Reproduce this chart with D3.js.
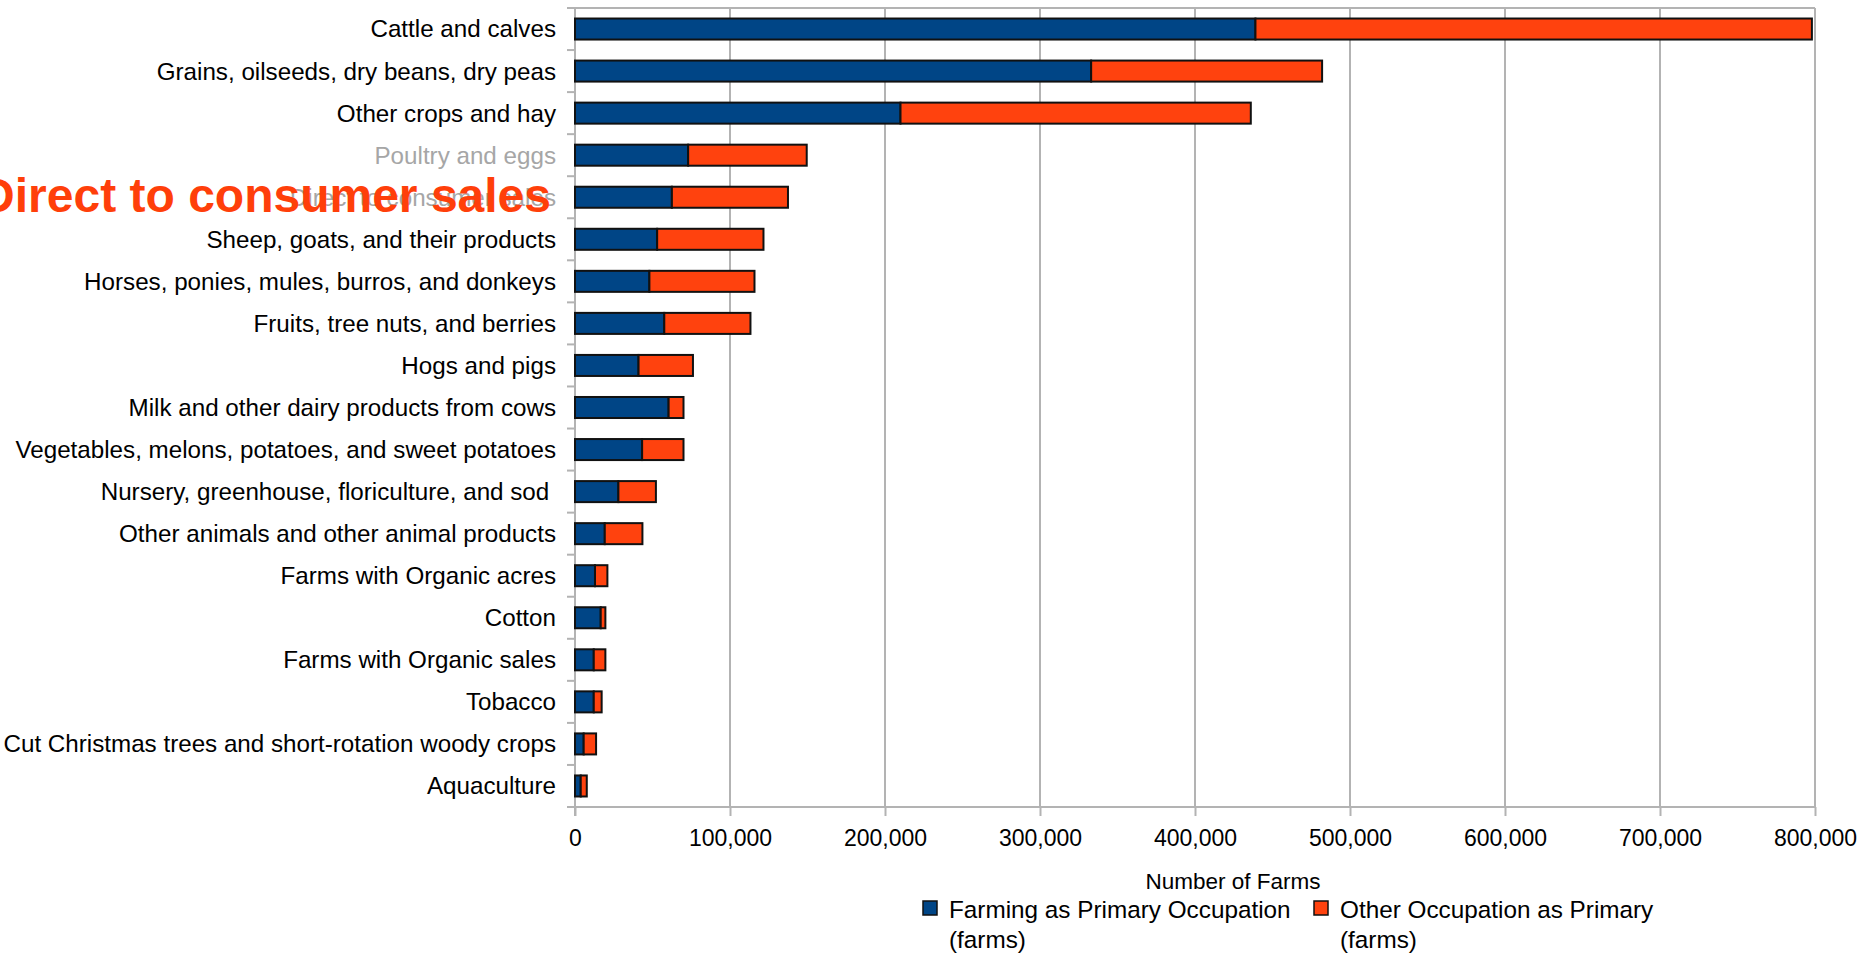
<!DOCTYPE html>
<html>
<head>
  <meta charset="UTF-8">
  <title>Number of Farms by commodity</title>
  <style>
    body {
      margin: 0;
      background-color: white;
    }
    svg {
      display: block;
      font-family: "Liberation Sans", Arial, sans-serif;
    }
    .catlabel {
      white-space: pre;
    }
  </style>
</head>
<body>

<svg id="chart"></svg>

<script src="https://d3js.org/d3.v7.min.js"></script>
<script>

// categories, top to bottom
let categories = [
  "Cattle and calves",
  "Grains, oilseeds, dry beans, dry peas",
  "Other crops and hay",
  "Poultry and eggs",
  "Direct to consumer sales",
  "Sheep, goats, and their products",
  "Horses, ponies, mules, burros, and donkeys",
  "Fruits, tree nuts, and berries",
  "Hogs and pigs",
  "Milk and other dairy products from cows",
  "Vegetables, melons, potatoes, and sweet potatoes",
  "Nursery, greenhouse, floriculture, and sod ",
  "Other animals and other animal products",
  "Farms with Organic acres",
  "Cotton",
  "Farms with Organic sales",
  "Tobacco",
  "Cut Christmas trees and short-rotation woody crops",
  "Aquaculture"
];

// Farming as Primary Occupation (farms)
let primaryFarms = [439000, 333000, 210000, 73000, 62500, 53000, 48000, 57600, 41000, 60400,
                    43300, 28000, 19200, 12900, 16600, 12100, 12100, 5600, 3700];

// Other Occupation as Primary (farms)
let otherFarms = [359000, 149000, 226000, 76500, 74900, 68600, 67800, 55600, 35100, 9600,
                  26700, 24200, 24300, 8000, 3000, 7500, 5100, 8000, 3900];

let seriesNames = ["Farming as Primary Occupation", "Other Occupation as Primary"];
let seriesColors = ["#004586", "#ff420e"];
let xTicks = [0, 100000, 200000, 300000, 400000, 500000, 600000, 700000, 800000];

// labels drawn greyed out in the original
let greyLabels = ["Poultry and eggs", "Direct to consumer sales"];

let width = 1862, height = 953;
let plotLeft = 575, plotRight = 1815, plotTop = 8, plotBottom = 807;

let svg = d3.select("#chart")
    .attr("width", width)
    .attr("height", height);

let x = d3.scaleLinear().domain([0, 800000]).range([plotLeft, plotRight]);
let y = d3.scaleBand().domain(categories).range([plotTop, plotBottom])
    .paddingInner(0.5).paddingOuter(0.25);

// table for the stack
let table = categories.map((c, i) => ({ cat: c, primary: primaryFarms[i], other: otherFarms[i] }));
let stacked = d3.stack().keys(["primary", "other"])(table);

// gridlines + frame
let grid = svg.append("g").attr("stroke", "#b3b3b3").attr("stroke-width", 2);
grid.selectAll("line.v")
    .data(xTicks.slice(1))
    .enter().append("line")
    .attr("x1", d => x(d)).attr("x2", d => x(d))
    .attr("y1", plotTop).attr("y2", plotBottom);
grid.append("line")
    .attr("x1", plotLeft).attr("x2", plotRight)
    .attr("y1", plotTop).attr("y2", plotTop);

// bottom axis
let xAxis = svg.append("g")
    .attr("transform", "translate(0," + plotBottom + ")")
    .call(d3.axisBottom(x).tickValues(xTicks).tickSize(9).tickPadding(14)
        .tickFormat(d3.format(",")).tickSizeOuter(0));
xAxis.select(".domain").attr("stroke", "#b3b3b3").attr("stroke-width", 2)
    .attr("d", "M" + (plotLeft - 8) + ",0H" + plotRight);
xAxis.selectAll(".tick line").attr("stroke", "#b3b3b3").attr("stroke-width", 2);
xAxis.selectAll(".tick text")
    .attr("fill", "#000")
    .style("font-size", "23px")
    .style("font-family", "Liberation Sans, Arial, sans-serif");

// left axis line and ticks between the categories
let yAxis = svg.append("g").attr("stroke", "#b3b3b3").attr("stroke-width", 2);
yAxis.append("line")
    .attr("x1", plotLeft).attr("x2", plotLeft)
    .attr("y1", plotTop).attr("y2", plotBottom + 9);
let step = y.step();
let firstEdge = y(categories[0]) - step * y.paddingInner() / 2;
let bounds = d3.range(categories.length + 1).map(i => firstEdge + i * step);
yAxis.selectAll("line.t")
    .data(bounds)
    .enter().append("line")
    .attr("x1", plotLeft - 8).attr("x2", plotLeft)
    .attr("y1", d => d).attr("y2", d => d);

// category labels
svg.append("g")
    .selectAll("text")
    .data(categories)
    .enter().append("text")
    .attr("class", "catlabel")
    .attr("x", plotLeft - 19)
    .attr("y", d => y(d) + y.bandwidth() / 2)
    .attr("dy", "0.35em")
    .attr("text-anchor", "end")
    .attr("font-size", 24.2)
    .attr("fill", d => greyLabels.includes(d) ? "#a6a6a6" : "#000")
    .text(d => d);

// bars
svg.append("g")
    .selectAll("g")
    .data(stacked)
    .enter().append("g")
    .attr("fill", (d, i) => seriesColors[i])
    .selectAll("rect")
    .data(d => d)
    .enter().append("rect")
    .attr("x", d => x(d[0]))
    .attr("y", d => y(d.data.cat))
    .attr("width", d => x(d[1]) - x(d[0]))
    .attr("height", y.bandwidth())
    .attr("stroke", "#111")
    .attr("stroke-width", 2);

// big overlay label
svg.append("text")
    .attr("x", 551)
    .attr("y", y("Direct to consumer sales") + y.bandwidth() / 2 + 15)
    .attr("text-anchor", "end")
    .attr("font-size", 48)
    .attr("font-weight", "bold")
    .attr("fill", "#ff3f0a")
    .text("Direct to consumer sales");

// axis title
svg.append("text")
    .attr("x", 1233)
    .attr("y", 889)
    .attr("text-anchor", "middle")
    .attr("font-size", 22.5)
    .text("Number of Farms");

// legend
let legendX = [923, 1314];
let legend = svg.append("g")
    .selectAll("g")
    .data(seriesNames)
    .enter().append("g")
    .attr("transform", (d, i) => "translate(" + legendX[i] + ",901)");
legend.append("rect")
    .attr("width", 14).attr("height", 14)
    .attr("fill", (d, i) => seriesColors[i])
    .attr("stroke", "#111")
    .attr("stroke-width", 1.5);
legend.append("text")
    .attr("x", 26).attr("y", 17)
    .attr("font-size", 24.3)
    .text(d => d);
legend.append("text")
    .attr("x", 26).attr("y", 47)
    .attr("font-size", 24.3)
    .text("(farms)");

</script>
</body>
</html>
